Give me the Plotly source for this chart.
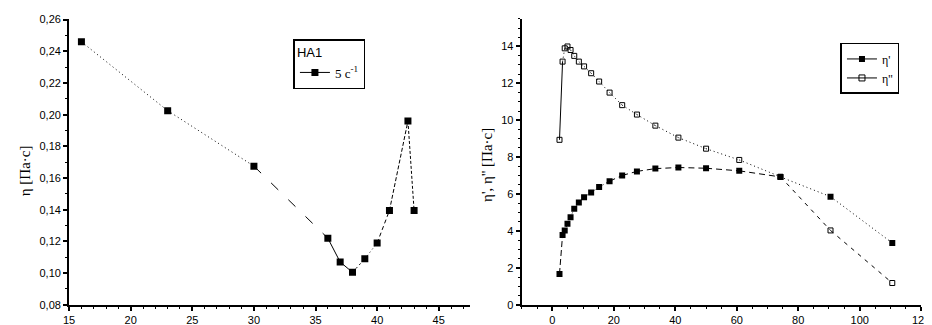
import plotly.graph_objects as go

# ---- data: left panel (eta vs temperature) ----
x_left = [16, 23, 30, 36, 37, 38, 39, 40, 41, 42.5, 43]
eta_left = [0.246, 0.2025, 0.1675, 0.122, 0.107, 0.1005, 0.109, 0.119, 0.1395, 0.196, 0.1395]
left_seg_dash = ["1px,3px", "1px,3px", "10px,14px", "solid", "solid", "2px,3px", "1px,3px", "4px,3px", "4px,2px", "3px,2px", "solid"]

# ---- data: right panel (eta', eta'' vs frequency) ----
x_right = [2.3, 3.3, 4.0, 4.9, 5.9, 7.1, 8.6, 10.3, 12.6, 15.2, 18.6, 22.7, 27.5, 33.5, 41, 50, 60.8, 74.2, 90.5, 110.6]
eta1 = [1.67, 3.78, 4.02, 4.39, 4.75, 5.21, 5.54, 5.83, 6.09, 6.38, 6.70, 7.01, 7.23, 7.38, 7.44, 7.40, 7.26, 6.93, 5.86, 3.35]
eta2 = [8.94, 13.18, 13.9, 14.0, 13.81, 13.49, 13.18, 12.92, 12.55, 12.10, 11.50, 10.82, 10.31, 9.71, 9.06, 8.46, 7.85, 6.94, 4.03, 1.18]
eta1_seg_dash = ["6px,3px"] + ["1px,3px"] * 9 + ["6px,4px"] * 7 + ["1px,3px", "1px,3px"]
eta2_seg_dash = ["solid"] + ["1px,3px"] * 16 + ["4px,5px", "4px,5px"]

legend_left_title = "HA1"
legend_left_item = "5 с<sup>-1</sup>"
legend_right_items = ["η'", "η''"]
ytitle_left = "η [Па·с]"
ytitle_right = "η', η'' [Па·с]"

fig = go.Figure()

def add_segments(xs, ys, dashes, xa, ya):
    for i, d in enumerate(dashes):
        fig.add_trace(go.Scatter(x=xs[i:i + 2], y=ys[i:i + 2], mode="lines",
                                 line=dict(color="black", width=1, dash=d),
                                 showlegend=False, hoverinfo="skip",
                                 xaxis=xa, yaxis=ya))

# left panel
add_segments(x_left, eta_left, left_seg_dash, "x", "y")
fig.add_trace(go.Scatter(x=x_left, y=eta_left, mode="markers",
                         marker=dict(symbol="square", size=7, color="black"),
                         showlegend=False, xaxis="x", yaxis="y"))
fig.add_trace(go.Scatter(x=[None], y=[None], mode="lines+markers", name=legend_left_item,
                         line=dict(color="black", width=1),
                         marker=dict(symbol="square", size=7, color="black"),
                         xaxis="x", yaxis="y", legend="legend"))

# right panel
add_segments(x_right, eta1, eta1_seg_dash, "x2", "y2")
add_segments(x_right, eta2, eta2_seg_dash, "x2", "y2")
fig.add_trace(go.Scatter(x=x_right, y=eta1, mode="markers",
                         marker=dict(symbol="square", size=6, color="black"),
                         showlegend=False, xaxis="x2", yaxis="y2"))
fig.add_trace(go.Scatter(x=x_right, y=eta2, mode="markers",
                         marker=dict(symbol="square-open", size=5, color="black", line=dict(width=1)),
                         showlegend=False, xaxis="x2", yaxis="y2"))
fig.add_trace(go.Scatter(x=[None], y=[None], mode="lines+markers", name=legend_right_items[0],
                         line=dict(color="black", width=1),
                         marker=dict(symbol="square", size=6, color="black"),
                         xaxis="x2", yaxis="y2", legend="legend2"))
fig.add_trace(go.Scatter(x=[None], y=[None], mode="lines+markers", name=legend_right_items[1],
                         line=dict(color="black", width=1),
                         marker=dict(symbol="square-open", size=6, color="black", line=dict(width=1)),
                         xaxis="x2", yaxis="y2", legend="legend2"))

tickfont = dict(family="Liberation Sans, Arial", size=11, color="black")
common = dict(showgrid=False, zeroline=False, showline=True, linecolor="black", linewidth=2,
              ticks="outside", ticklen=4, tickwidth=1.5, tickcolor="black", tickfont=tickfont,
              mirror=False, ticklabeloverflow="allow")
minor = dict(ticks="outside", ticklen=2, tickwidth=1, tickcolor="black", showgrid=False)

ydom = [1 - 302 / 325, 1 - 6 / 325]
fig.update_layout(
    width=932, height=325, margin=dict(l=0, r=0, t=0, b=0),
    paper_bgcolor="white", plot_bgcolor="white", separators=", ",
    xaxis=dict(domain=[56 / 932, 463 / 932], range=[15, 47.5], dtick=5, tick0=15,
               minor=dict(dtick=1, **minor), anchor="y", **common),
    yaxis=dict(domain=ydom, range=[0.08, 0.2605], dtick=0.02, tick0=0.08, tickformat=".2f",
               minor=dict(dtick=0.01, **minor), anchor="x", **common),
    xaxis2=dict(domain=[516 / 932, 922 / 932], range=[-10, 120], dtick=20, tick0=0,
                minor=dict(dtick=5, **minor), anchor="y2", **common),
    yaxis2=dict(domain=ydom, range=[0, 15.5], dtick=2, tick0=0,
                minor=dict(dtick=0.5, **minor), anchor="x2", **common),
    legend=dict(x=284 / 932, y=1 - 27 / 325, xanchor="left", yanchor="top",
                bordercolor="black", borderwidth=1.5, bgcolor="white",
                title=dict(text=legend_left_title, font=dict(family="Liberation Sans, Arial", size=13, color="black")),
                font=dict(family="Liberation Serif, Times New Roman", size=13, color="black"),
                itemwidth=30, tracegroupgap=0),
    legend2=dict(x=840 / 932, y=1 - 31 / 325, xanchor="left", yanchor="top",
                 bordercolor="black", borderwidth=1.5, bgcolor="white",
                 font=dict(family="Liberation Serif, Times New Roman", size=12, color="black"),
                 itemwidth=30, tracegroupgap=0),
    showlegend=True,
)

fig.add_annotation(text=ytitle_left, xref="paper", yref="paper", x=12 / 932, y=1 - 163 / 325,
                   textangle=-90, showarrow=False, xanchor="center", yanchor="middle",
                   font=dict(family="Liberation Serif, Times New Roman", size=15, color="black"))
fig.add_annotation(text=ytitle_right, xref="paper", yref="paper", x=480 / 932, y=1 - 157 / 325,
                   textangle=-90, showarrow=False, xanchor="center", yanchor="middle",
                   font=dict(family="Liberation Serif, Times New Roman", size=15, color="black"))

fig.write_html("out.html")
